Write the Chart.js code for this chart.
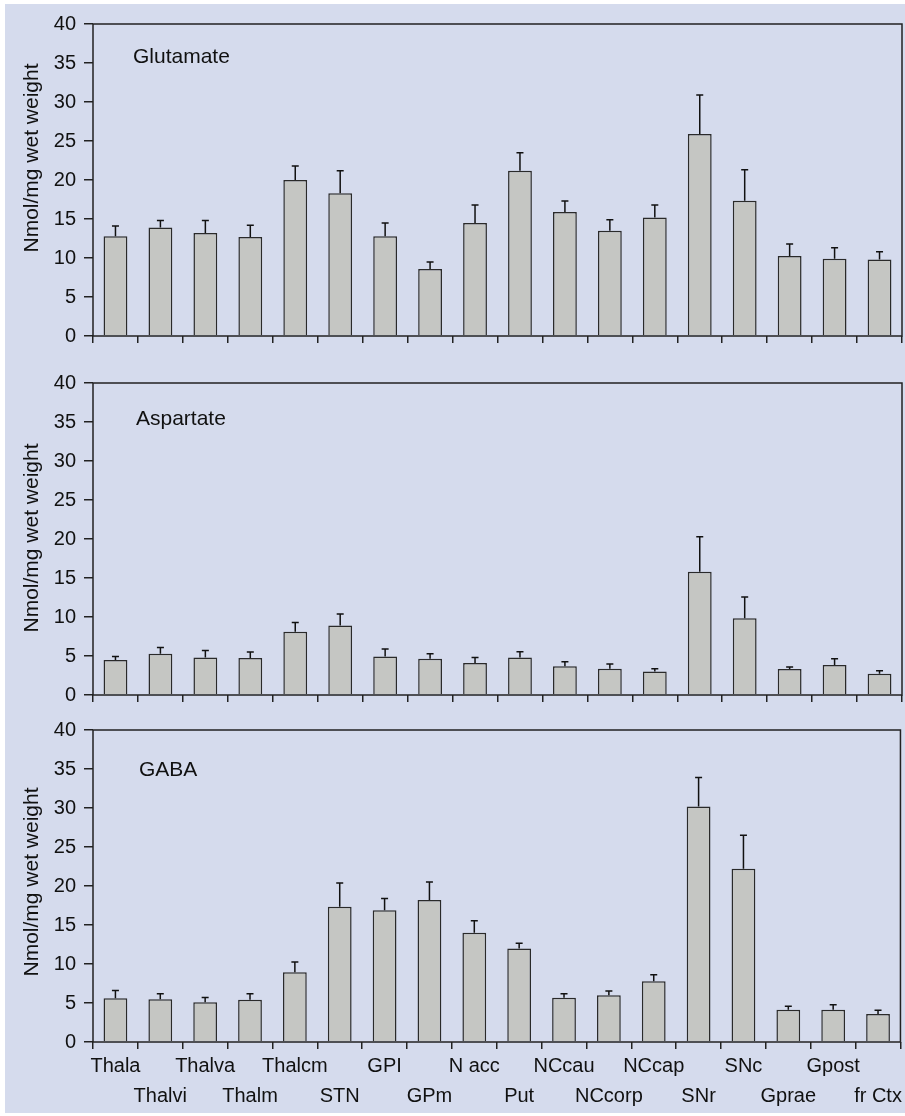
<!DOCTYPE html>
<html>
<head>
<meta charset="utf-8">
<script src="https://cdn.jsdelivr.net/npm/chart.js@4.4.1/dist/chart.umd.min.js"></script>
<style>
  body { margin: 0; background: #fff; }
  #bg { position: absolute; left: 5px; top: 4px; width: 900px; height: 1109px; background: #d5dbed; }
  canvas { position: absolute; left: 5px; }
</style>
</head>
<body>
<div id="bg"></div>
<canvas id="gluChart" width="900" height="352" style="top:4px"></canvas>
<canvas id="aspChart" width="900" height="352" style="top:363px"></canvas>
<canvas id="gabaChart" width="900" height="403" style="top:710px"></canvas>
<script>
// brain regions (x axis), in plot order
const regions = ["Thala", "Thalvi", "Thalva", "Thalm", "Thalcm", "STN", "GPI", "GPm", "N acc",
                 "Put", "NCcau", "NCcorp", "NCcap", "SNr", "SNc", "Gprae", "Gpost", "fr Ctx"];

// y ticks (Nmol/mg wet weight)
const yMin = 0, yMax = 40, yStep = 5;

// Glutamate: mean and upper error
const gluMean = [12.8, 13.9, 13.2, 12.7, 20.0, 18.3, 12.8, 8.6, 14.5, 21.2, 15.9, 13.5, 15.2, 25.9, 17.35, 10.25, 9.9, 9.8];
const gluErr  = [1.3, 0.9, 1.6, 1.5, 1.8, 2.9, 1.7, 0.9, 2.3, 2.3, 1.4, 1.4, 1.6, 5.0, 3.95, 1.55, 1.4, 1.0];

// Aspartate
const aspMean = [4.5, 5.3, 4.8, 4.75, 8.1, 8.9, 4.95, 4.65, 4.1, 4.8, 3.7, 3.37, 3.0, 15.8, 9.83, 3.33, 3.85, 2.73];
const aspErr  = [0.45, 0.8, 0.9, 0.75, 1.2, 1.5, 0.95, 0.65, 0.7, 0.75, 0.57, 0.6, 0.37, 4.5, 2.73, 0.27, 0.8, 0.37];

// GABA
const gabaMean = [5.6, 5.47, 5.09, 5.42, 8.95, 17.35, 16.9, 18.2, 14.0, 12.0, 5.68, 6.0, 7.78, 30.2, 22.2, 4.15, 4.15, 3.6];
const gabaErr  = [1.0, 0.73, 0.6, 0.78, 1.3, 3.05, 1.5, 2.3, 1.55, 0.65, 0.52, 0.54, 0.85, 3.7, 4.3, 0.42, 0.63, 0.46];

const FONT = '"Liberation Sans", Arial, sans-serif';
const INK = '#111';

// error bars, plot frame, panel name and y title
const panelPlugin = {
  id: 'panel',
  afterDatasetsDraw(chart, args, opts) {
    const ctx = chart.ctx;
    const a = chart.chartArea;
    const y = chart.scales.y;
    const meta = chart.getDatasetMeta(0);
    ctx.save();
    ctx.strokeStyle = INK;
    ctx.lineWidth = 1.5;
    meta.data.forEach((bar, i) => {
      const top = y.getPixelForValue(opts.means[i] + opts.errs[i]);
      ctx.beginPath();
      ctx.moveTo(bar.x, bar.y);
      ctx.lineTo(bar.x, top);
      ctx.moveTo(bar.x - 3.5, top);
      ctx.lineTo(bar.x + 3.5, top);
      ctx.stroke();
    });
    ctx.strokeStyle = '#222';
    ctx.strokeRect(a.left, a.top, a.width, a.height);

    ctx.fillStyle = INK;
    ctx.font = '21px ' + FONT;
    ctx.textAlign = 'left';
    ctx.textBaseline = 'alphabetic';
    ctx.fillText(opts.name, a.left + opts.nameDx, a.top + opts.nameDy);

    ctx.translate(27, (a.top + a.bottom) / 2 + opts.titleDy);
    ctx.rotate(-Math.PI / 2);
    ctx.textAlign = 'center';
    ctx.textBaseline = 'middle';
    ctx.font = '21px ' + FONT;
    ctx.fillText('Nmol/mg wet weight', 0, 0);
    ctx.restore();
  }
};

function makePanel(id, name, means, errs, showLabels, xHeight, nameDx, nameDy, titleDy) {
  const ctx = document.getElementById(id).getContext('2d');
  // stagger the region names on two rows
  const labels = regions.map((r, i) => i % 2 === 0 ? r : ['', r]);
  new Chart(ctx, {
    type: 'bar',
    data: {
      labels: labels,
      datasets: [{
        data: means,
        backgroundColor: '#c5c6c3',
        borderColor: '#2a2a2a',
        borderWidth: 1.5,
        barPercentage: 0.53,
        categoryPercentage: 1.0
      }]
    },
    options: {
      responsive: false,
      animation: false,
      layout: { padding: { top: 20, right: 3, left: 0, bottom: 0 } },
      plugins: {
        legend: { display: false },
        tooltip: { enabled: false },
        panel: { name: name, means: means, errs: errs, nameDx: nameDx, nameDy: nameDy, titleDy: titleDy }
      },
      scales: {
        x: {
          offset: true,
          border: { display: false },
          grid: { offset: true, drawOnChartArea: false, drawTicks: true, tickLength: 7, color: '#222', lineWidth: 1.5 },
          ticks: {
            display: showLabels,
            autoSkip: false,
            maxRotation: 0,
            padding: 3,
            color: INK,
            font: { family: FONT, size: 20, lineHeight: 1.48 }
          },
          afterFit: s => { s.height = xHeight; }
        },
        y: {
          min: yMin,
          max: yMax,
          border: { display: false },
          grid: { drawOnChartArea: false, drawTicks: true, tickLength: 9, color: '#222', lineWidth: 1.5 },
          ticks: { stepSize: yStep, padding: 8, color: INK, font: { family: FONT, size: 20 } },
          afterFit: s => { s.width = 88; }
        }
      }
    },
    plugins: [panelPlugin]
  });
}

makePanel('gluChart', 'Glutamate', gluMean, gluErr, false, 20, 40, 39, -22);
makePanel('aspChart', 'Aspartate', aspMean, aspErr, false, 20, 43, 42, -1);
makePanel('gabaChart', 'GABA', gabaMean, gabaErr, true, 71, 46, 46, -4);
</script>
</body>
</html>
